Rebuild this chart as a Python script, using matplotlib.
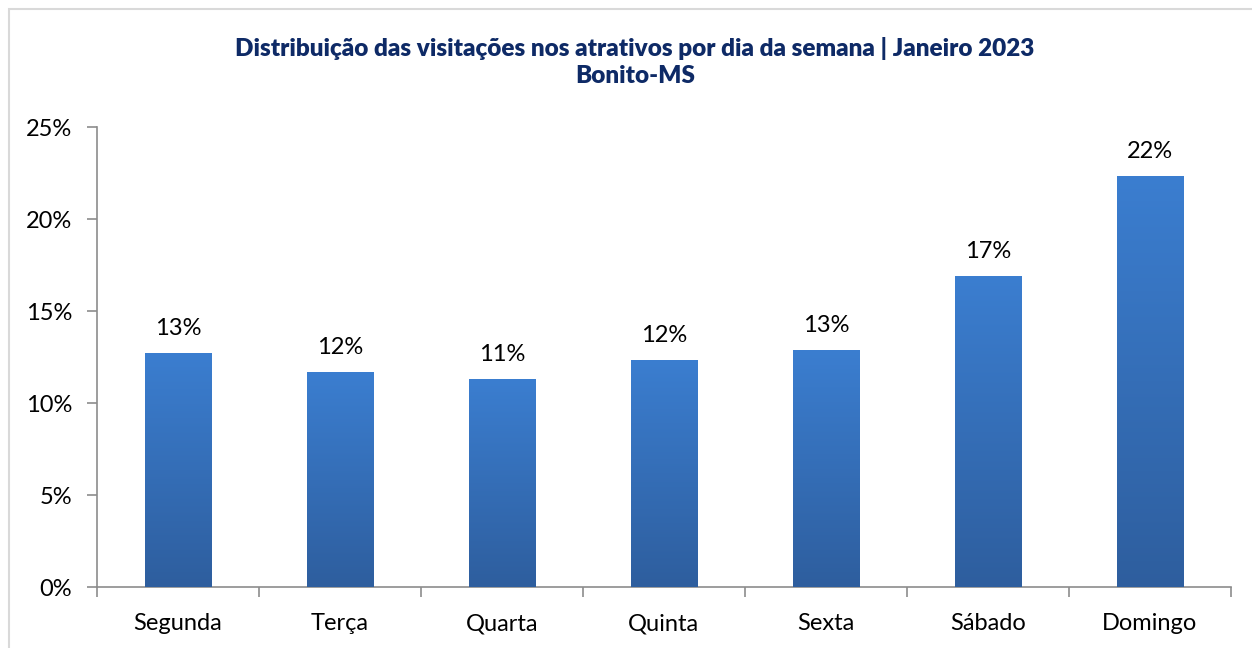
import matplotlib.pyplot as plt
import matplotlib.patches as mpatches
import numpy as np
from matplotlib.colors import LinearSegmentedColormap
from matplotlib.ticker import FuncFormatter, MultipleLocator

plt.rcParams['font.family'] = ['Lato', 'DejaVu Sans']

dias = ["Segunda", "Terça", "Quarta", "Quinta", "Sexta", "Sábado", "Domingo"]
percentuais = [12.72, 11.68, 11.30, 12.34, 12.88, 16.90, 22.34]
rotulos = ["13%", "12%", "11%", "12%", "13%", "17%", "22%"]

titulo = "Distribuição das visitações nos atrativos por dia da semana | Janeiro 2023\nBonito-MS"

fig = plt.figure(figsize=(12.52, 6.48), dpi=100)
ax = fig.add_axes([0.0775, 0.0941, 0.9055, 0.7099])

x = np.arange(len(dias))
bars = ax.bar(x, percentuais, width=0.41, color="#3570BA", zorder=2)

# gradient fill: lighter at the top, darker at the bottom
cmap = LinearSegmentedColormap.from_list("azul", ["#2E5E9E", "#3B7ED0"])
grad = np.linspace(0, 1, 256).reshape(-1, 1)
for b in bars:
    x0, y0 = b.get_x(), b.get_y()
    w, h = b.get_width(), b.get_height()
    im = ax.imshow(grad, extent=[x0, x0 + w, y0, y0 + h], origin="lower",
                   cmap=cmap, aspect="auto", zorder=3)
    im.set_clip_path(b)

for xi, v, lab in zip(x, percentuais, rotulos):
    ax.annotate(lab, (xi, v), xytext=(0, 10), textcoords="offset points",
                ha="center", va="bottom", fontsize=17, color="#000000")

ax.set_xlim(-0.5, len(dias) - 0.5)
ax.set_ylim(0, 25)
ax.yaxis.set_major_locator(MultipleLocator(5))
ax.yaxis.set_major_formatter(FuncFormatter(lambda v, p: f"{v:.0f}%"))

ax.set_xticks(x)
ax.set_xticklabels(dias, fontsize=17)
ax.set_xticks(np.arange(-0.5, len(dias)), minor=True)
ax.tick_params(axis="x", which="major", length=0, pad=19)
ax.tick_params(axis="x", which="minor", length=7, color="#8c8c8c", width=1.2)
ax.tick_params(axis="y", length=7, color="#8c8c8c", width=1.2, labelsize=17, pad=11)

for s in ["top", "right"]:
    ax.spines[s].set_visible(False)
for s in ["left", "bottom"]:
    ax.spines[s].set_color("#8c8c8c")
    ax.spines[s].set_linewidth(1.2)
ax.set_xlim(-0.5, len(dias) - 0.5)

fig.text(635 / 1252, 1 - 62 / 648, titulo, ha="center", va="center",
         fontsize=17.5, fontweight="heavy", color="#0E2A66", linespacing=1.3)

# light outer border of the chart area
fig.patches.append(mpatches.Rectangle((9 / 1252, -0.1), 1.2, 1 - 9 / 648 + 0.1,
                                      transform=fig.transFigure, fill=False,
                                      edgecolor="#d9d9d9", linewidth=1.5))

fig.savefig("out.png", dpi=100)
